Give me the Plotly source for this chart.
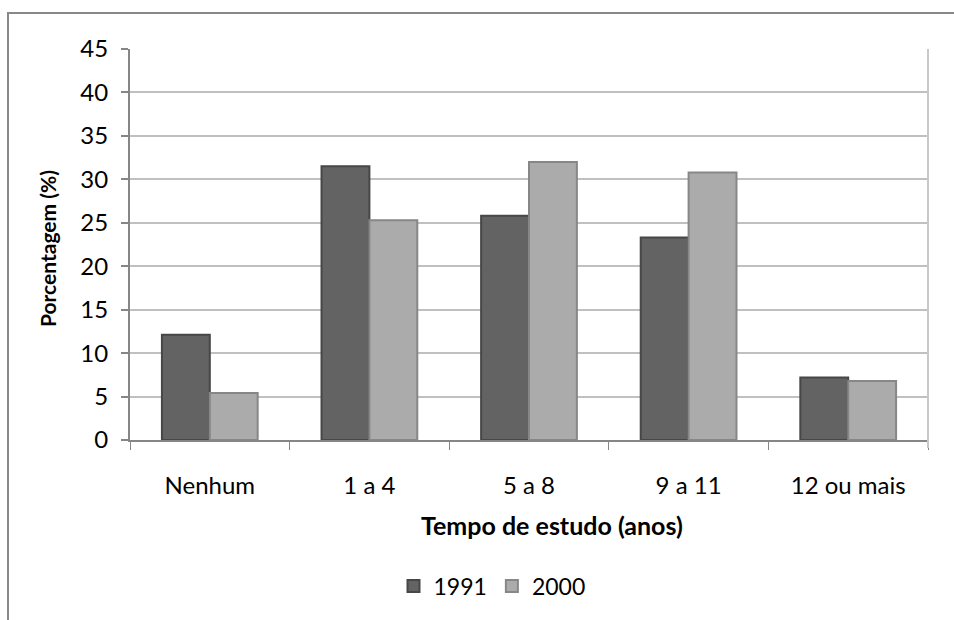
import plotly.graph_objects as go

categories = ["Nenhum", "1 a 4", "5 a 8", "9 a 11", "12 ou mais"]
values_1991 = [12.1, 31.5, 25.8, 23.3, 7.2]
values_2000 = [5.4, 25.3, 32.0, 30.8, 6.8]
y_ticks = [0, 5, 10, 15, 20, 25, 30, 35, 40, 45]

FONT = "Lato"

fig = go.Figure()
fig.add_trace(go.Bar(
    name="1991", x=categories, y=values_1991,
    marker=dict(color="#636363", line=dict(color="#474747", width=2)),
))
fig.add_trace(go.Bar(
    name="2000", x=categories, y=values_2000,
    marker=dict(color="#ababab", line=dict(color="#878787", width=2)),
))

L, R, T, B = 130, 928, 49, 440
W, H = 954, 620
pw, ph = R - L, B - T

def px_x(x):
    return (x - L) / pw

def px_y(y):
    return (B - y) / ph

fig.update_layout(
    width=W, height=H,
    margin=dict(l=L, r=W - R, t=T, b=H - B, pad=0),
    paper_bgcolor="white", plot_bgcolor="white",
    barmode="group", bargap=0.4, bargroupgap=0,
    font=dict(family=FONT, size=24, color="#000000"),
    showlegend=True,
    legend=dict(orientation="h", x=px_x(492), y=px_y(586), xanchor="center", yanchor="middle",
                font=dict(family=FONT, size=23), itemwidth=30, traceorder="normal"),
    xaxis=dict(
        showline=True, linecolor="#868686", linewidth=2,
        ticks="outside", ticklen=8, tickcolor="#868686", tickwidth=1,
        tickson="boundaries", ticklabelstandoff=23,
    ),
    yaxis=dict(
        range=[0, 45], tickvals=y_ticks,
        showgrid=True, gridcolor="#c0c0c0", gridwidth=2,
        showline=True, linecolor="#868686", linewidth=2,
        ticks="outside", ticklen=7, tickcolor="#868686", tickwidth=2,
        ticklabelstandoff=8, zeroline=False,
    ),
    annotations=[
        dict(text="<b>Tempo de estudo (anos)</b>", xref="paper", yref="paper",
             x=px_x(552), y=px_y(525), xanchor="center", yanchor="middle",
             showarrow=False, font=dict(family=FONT, size=25)),
        dict(text="<b>Porcentagem (%)</b>", xref="paper", yref="paper",
             x=px_x(48), y=px_y(249), xanchor="center", yanchor="middle", textangle=-90,
             showarrow=False, font=dict(family=FONT, size=21)),
    ],
    shapes=[
        dict(type="rect", xref="paper", yref="paper",
             x0=px_x(8), x1=px_x(965), y0=px_y(13), y1=px_y(640),
             line=dict(color="#888888", width=2), fillcolor="rgba(0,0,0,0)", layer="below"),
        dict(type="line", xref="paper", yref="paper",
             x0=1, x1=1, y0=1, y1=px_y(448),
             line=dict(color="#c8c8c8", width=2)),
    ],
)

fig.write_html("out.html")
